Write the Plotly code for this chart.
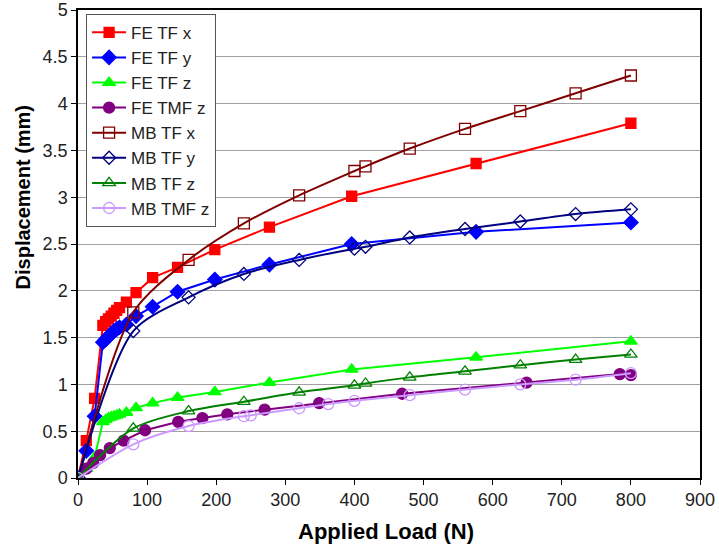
import plotly.graph_objects as go

# Applied load (N) at which each series was sampled
fe_load = [0, 12, 24, 36, 40, 44, 48, 52, 56, 60, 70, 84, 108, 144, 198, 277, 396, 576, 800]
fe_tmf_load = [0, 12, 22, 32, 46, 66, 97, 145, 180, 216, 270, 349, 469, 649, 784, 800]
mb_load = [0, 80, 160, 240, 320, 400, 416, 480, 560, 640, 720, 800]
mb_tmf_load = [0, 80, 160, 240, 250, 320, 362, 400, 480, 560, 640, 720, 800]

# Displacement (mm)
fe_tf_x = [0, 0.40, 0.85, 1.63, 1.67, 1.70, 1.73, 1.76, 1.79, 1.82, 1.88, 1.98, 2.14, 2.25, 2.44, 2.68, 3.01, 3.36, 3.79]
fe_tf_y = [0, 0.29, 0.66, 1.45, 1.48, 1.51, 1.54, 1.57, 1.59, 1.61, 1.64, 1.73, 1.83, 1.99, 2.12, 2.28, 2.50, 2.63, 2.73]
fe_tf_z = [0, 0.10, 0.22, 0.60, 0.62, 0.64, 0.65, 0.66, 0.67, 0.68, 0.70, 0.75, 0.80, 0.86, 0.92, 1.02, 1.16, 1.29, 1.46]
fe_tmf_z = [0, 0.10, 0.16, 0.245, 0.32, 0.40, 0.51, 0.60, 0.64, 0.68, 0.73, 0.80, 0.90, 1.02, 1.11, 1.10]
mb_tf_x = [0, 1.77, 2.33, 2.72, 3.02, 3.28, 3.33, 3.52, 3.73, 3.92, 4.11, 4.30]
mb_tf_y = [0, 1.57, 1.93, 2.18, 2.33, 2.45, 2.47, 2.57, 2.66, 2.74, 2.82, 2.87]
mb_tf_z = [0, 0.53, 0.715, 0.815, 0.915, 0.99, 1.01, 1.075, 1.14, 1.205, 1.265, 1.32]
mb_tmf_z = [0, 0.36, 0.555, 0.66, 0.67, 0.745, 0.79, 0.825, 0.885, 0.945, 1.00, 1.05, 1.12]

series = [
    ("FE TF x", fe_load, fe_tf_x, "#FF0000", "square", 10, "linear"),
    ("FE TF y", fe_load, fe_tf_y, "#0000FF", "diamond", 11, "linear"),
    ("FE TF z", fe_load, fe_tf_z, "#00FF00", "triangle-up", 11, "linear"),
    ("FE TMF z", fe_tmf_load, fe_tmf_z, "#800080", "circle", 11, "linear"),
    ("MB TF x", mb_load, mb_tf_x, "#800000", "square-open", 11, "spline"),
    ("MB TF y", mb_load, mb_tf_y, "#000080", "diamond-open", 10, "spline"),
    ("MB TF z", mb_load, mb_tf_z, "#008000", "triangle-up-open", 11, "spline"),
    ("MB TMF z", mb_tmf_load, mb_tmf_z, "#CC99FF", "circle-open", 11, "spline"),
]

fig = go.Figure()
for name, x, y, color, symbol, size, shape in series:
    fig.add_trace(go.Scatter(
        x=x, y=y, name=name, mode="lines+markers",
        line=dict(color=color, width=2, shape=shape, smoothing=0.8),
        marker=dict(symbol=symbol, size=size, color=color,
                    line=dict(color=color, width=1.3)),
    ))

font = "Liberation Sans, Arial, sans-serif"
tick_font = dict(family=font, size=18, color="#222222")
fig.update_layout(
    width=719, height=552,
    margin=dict(l=78, r=19, t=10, b=74),
    paper_bgcolor="white", plot_bgcolor="white",
    font=dict(family=font, size=17, color="#222222"),
    showlegend=True,
    legend=dict(
        x=0.013, y=0.992, xanchor="left", yanchor="top",
        bgcolor="white", bordercolor="#555555", borderwidth=1,
        font=dict(family=font, size=17, color="#222222"),
        tracegroupgap=0, itemwidth=34,
    ),
    xaxis=dict(
        range=[0, 900], dtick=100, showgrid=False, zeroline=False,
        showline=True, linecolor="black", linewidth=1.5, mirror=True,
        ticks="outside", ticklen=5, tickcolor="black",
        tickfont=tick_font, automargin=False,
    ),
    yaxis=dict(
        range=[0, 5], dtick=0.5, showgrid=True, gridcolor="#A0A0A0", gridwidth=1,
        zeroline=False, showline=True, linecolor="black", linewidth=1.5, mirror=True,
        ticks="outside", ticklen=5, tickcolor="black",
        tickfont=tick_font, automargin=False,
    ),
    annotations=[
        dict(text="<b>Applied Load (N)</b>", xref="paper", yref="paper",
             x=0.495, y=-0.115, xanchor="center", yanchor="middle", showarrow=False,
             font=dict(family=font, size=22, color="black")),
        dict(text="<b>Displacement (mm)</b>", xref="paper", yref="paper",
             x=-0.088, y=0.60, xanchor="center", yanchor="middle", showarrow=False,
             textangle=-90, font=dict(family=font, size=20, color="black")),
    ],
)

fig.write_html("out.html")
